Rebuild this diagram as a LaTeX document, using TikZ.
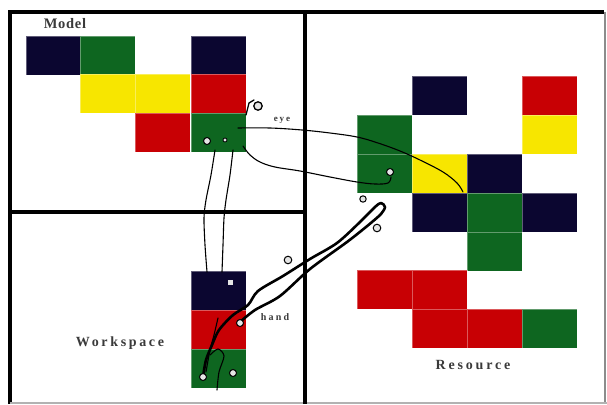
\documentclass[tikz,border=0pt]{standalone}
\usepackage{fontspec}
\setmainfont{Liberation Serif}
\definecolor{cnavy}{HTML}{0B0630}
\definecolor{cgreen}{HTML}{0E6620}
\definecolor{cyellow}{HTML}{F7E600}
\definecolor{cred}{HTML}{C80004}
\definecolor{ctext}{HTML}{3A3A3A}
\newcommand\mycell[3]{\path[cellbox,fill=#1] (#2,#3) rectangle ++(55,39);}
\tikzset{
  cellbox/.style={draw=white,draw opacity=0.35,line width=0.6pt},
  frameline/.style={line width=3.5pt,black},
  eyeline/.style={line width=1.1pt,black,line join=round,line cap=round},
  handline/.style={line width=2.6pt,black,line join=round,line cap=round},
  blob/.style={draw=black,line width=1.3pt,fill=white!80!gray},
  lbl/.style={text=ctext,inner sep=0pt},
}
\begin{document}
\begin{tikzpicture}[x=1pt,y=-1pt]
\useasboundingbox (0,0) rectangle (607,404);
\fill[white] (0,0) rectangle (607,404);
% model
\mycell{cnavy}{26}{36}
\mycell{cgreen}{80}{36}
\mycell{cnavy}{191}{36}
\mycell{cyellow}{80}{74}
\mycell{cyellow}{135}{74}
\mycell{cred}{191}{74}
\mycell{cred}{135}{113}
\mycell{cgreen}{191}{113}
% resource
\mycell{cnavy}{412}{76}
\mycell{cred}{522}{76}
\mycell{cgreen}{357}{115}
\mycell{cyellow}{522}{115}
\mycell{cgreen}{357}{154}
\mycell{cyellow}{412}{154}
\mycell{cnavy}{467}{154}
\mycell{cnavy}{412}{193}
\mycell{cgreen}{467}{193}
\mycell{cnavy}{522}{193}
\mycell{cgreen}{467}{232}
\mycell{cred}{357}{270}
\mycell{cred}{412}{270}
\mycell{cred}{412}{309}
\mycell{cred}{467}{309}
\mycell{cgreen}{522}{309}
% workspace
\mycell{cnavy}{191}{271}
\mycell{cred}{191}{310}
\mycell{cgreen}{191}{349}
% frame
\draw[frameline] (10,404) -- (10,12) -- (604,12);
\draw[line width=1.5pt,black!45] (605,12) -- (605,404);
\draw[line width=1.5pt,black!30] (10,403) -- (607,403);
\draw[frameline] (305,12) -- (305,404);
\draw[line width=3.2pt,black] (10,212) -- (305,212);
% labels
\node[lbl,font=\fontsize{14.5}{14.5}\selectfont\bfseries\addfontfeature{LetterSpace=5}] (model) at (65,24) {Model};
\node[lbl,font=\fontsize{14}{14}\selectfont\bfseries\addfontfeature{LetterSpace=19}] (work) at (120,343) {Workspace};
\node[lbl,font=\fontsize{14}{14}\selectfont\bfseries\addfontfeature{LetterSpace=20}] (res) at (473,365) {Resource};
\node[lbl,font=\fontsize{9}{9}\selectfont\bfseries\addfontfeature{LetterSpace=20}] (eye) at (282,120) {eye};
\node[lbl,font=\fontsize{10}{10}\selectfont\bfseries\addfontfeature{LetterSpace=22}] (hand) at (275,317) {hand};
% eye traces
\draw[eyeline] plot[smooth,tension=0.6] coordinates {(238,128) (270,128) (302,130) (330,133) (357,137) (378,143) (400,151) (420,160) (443,172) (457,183) (463,192)};
\draw[eyeline,line width=1.3pt] (246,115) -- (249,103) -- (254,100);
\draw[eyeline] plot[smooth,tension=0.6] coordinates {(243,146) (250,155) (260,162) (275,167) (300,171) (330,177) (357,182) (375,184) (388,183) (391,177)};
\draw[eyeline] plot[smooth,tension=0.5] coordinates {(215,150) (211,175) (206,200) (204,218) (205,245) (207,272)};
\draw[eyeline] plot[smooth,tension=0.5] coordinates {(233,150) (230,175) (226,200) (224,218) (223,245) (222,272)};
\draw[eyeline] plot[smooth,tension=0.5] coordinates {(218,318) (214,335) (210,350) (206,372)};
\draw[eyeline] plot[smooth,tension=0.5] coordinates {(210,355) (218,349) (224,356) (219,372) (217,390)};
% hand traces
\draw[handline] plot[smooth,tension=0.5] coordinates {(203,377) (206,360) (212,345) (219,330) (233,315) (248,305) (258,291) (283,276) (310,259) (337,243) (360,222) (375,207) (381,203) (385,207) (381,214) (372,222)};
\draw[handline] plot[smooth,tension=0.5] coordinates {(240,322) (255,310) (280,296) (310,269) (347,242) (366,227) (372,222)};
% blobs
\path[blob] (258,106) circle (4.2);
\path[blob,line width=1pt] (207,141) circle (3.5);
\path[blob,line width=0.8pt] (225,140) circle (2);
\path[blob,line width=1pt] (390,172) circle (3.5);
\path[blob,line width=1pt] (363,199) circle (3.2);
\path[blob,line width=1pt] (288,260) circle (3.8);
\path[blob,line width=1pt] (377,228) circle (3.8);
\path[blob,line width=1pt] (203,377) circle (3.5);
\path[blob,line width=1pt] (233,373) circle (3.5);
\path[blob,line width=1pt] (240,323) circle (3.5);
\path[blob,draw=none] (228,280) rectangle (233,285);
\end{tikzpicture}
\end{document}
